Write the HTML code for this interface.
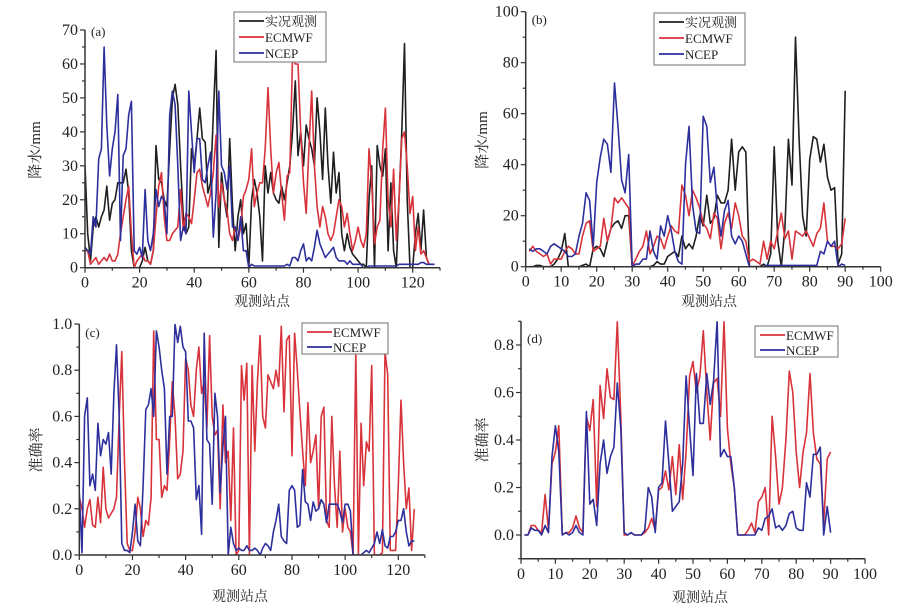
<!DOCTYPE html>
<html><head><meta charset="utf-8"><style>
body{margin:0;background:#fff;width:924px;height:615px;overflow:hidden}
svg{display:block;font-family:"Liberation Serif","Noto Serif CJK SC",serif}
</style></head><body>
<svg id="c" width="924" height="615" viewBox="0 0 924 615" xmlns="http://www.w3.org/2000/svg"></svg>
<script>
const aObs=[30,10,2,12,15,12,15,17,24,14,19,20,25,25,25,29,22,5,0,0,0,2,6,2,1,5,36,26,25,20,18,35,50,54,48,30,15,10,12,35,30,38,47,38,37,22,25,45,64,6,28,20,15,38,18,5,15,20,10,13,0,20,26,22,15,2,30,22,28,22,20,19,24,20,25,30,40,55,33,40,30,42,38,35,30,50,40,26,47,30,19,34,22,28,10,5,10,6,4,3,2,1,1,0,20,30,0,36,30,27,35,5,25,5,0,20,40,66,20,0,0,10,16,5,17,3,1];
const aEC=[5,5,1,2,3,1,2,3,2,4,2,2,4,10,15,20,24,10,0,2,3,4,2,2,1,5,15,24,28,15,8,8,10,11,12,23,11,16,15,13,20,28,29,24,21,18,22,28,39,18,25,20,17,10,8,12,8,12,21,23,26,35,18,22,25,25,35,53,35,22,28,31,22,14,27,28,62,60,60,40,25,16,35,52,30,18,12,18,15,10,8,10,15,20,18,12,16,10,5,8,12,8,6,10,35,25,7,12,14,35,47,20,12,29,8,20,38,40,30,16,21,5,12,4,5,3,1];
const aNC=[6,5,4,15,12,32,35,65,42,27,35,40,51,8,33,35,45,49,5,4,6,3,23,8,5,10,23,18,21,20,10,45,52,48,30,8,12,10,52,40,28,38,38,26,25,30,34,9,22,52,30,28,23,30,12,12,8,15,5,5,0,1,0.5,0.5,0.5,0.5,0.5,0.5,0.5,0.5,0.5,0.5,0.5,0.5,1,0.5,3,3,2,5,7,2,3,2,6,11,7,5,3,4,5,6,3,2,2,2,1,2,1,1,1,1,0,0,0.5,0.5,0.5,0.5,0.5,0.5,0.5,0.5,0.5,0.5,0.5,1,1,1,1,1,1,1,1,1.5,1.5,1,1,1,1];
const bObs=[0,0,0.5,0.5,0,0,0,1,3,6,13,0,0,0,0,0.5,1,0,7,8,7,4,10,15,17,18,15,20,20,0,0,0,0,0,0,0.5,2,1,1,4,5,6,4,12,7,9,7,12,20,16,28,17,19,28,25,25,30,50,30,45,47,45,0,0,0,0,1,0,5,47,10,0,15,50,32,90,50,20,12,42,51,50,41,48,35,30,31,1,5,69];
const bEC=[6,8,6,5,4,5,1,3,3,3,6,8,7,5,5,12,17,18,6,7,8,19,10,15,27,25,27,25,23,0,3,6,8,14,5,8,12,11,7,12,16,14,13,32,28,20,30,27,23,17,15,11,21,19,7,17,21,15,25,20,12,10,2,3,2,1,10,3,10,7,14,21,11,14,3,14,13,12,14,11,8,13,15,25,10,8,8,7,9,19];
const bNC=[7,6,7,7,6,5,8,9,8,7,6,4,4,5,12,17,29,26,8,33,43,50,48,37,72,55,34,29,44,0,1,1,3,3,14,6,3,16,12,20,14,6,2,1,40,55,24,14,13,59,55,33,39,22,12,22,26,12,9,12,10,5,0,0,0,0,0,0.5,0.5,0.5,0.5,0.5,0.5,0.5,0.5,0.5,0.5,0.5,0.5,0.5,0.5,0.5,6,5,10,8,10,0,1,0.5];
const cEC=[0.25,0.2,0.12,0.2,0.24,0.13,0.12,0.25,0.14,0.38,0.2,0.16,0.18,0.2,0.25,0.6,0.88,0.4,0.05,0.02,0.02,0.1,0.25,0.2,0.08,0.15,0.13,0.25,0.97,0.5,0.5,0.25,0.3,0.28,0.5,0.75,0.6,0.33,0.35,0.45,0.85,0.8,0.65,0.6,0.8,0.9,0.7,0.75,0.55,0.95,0.6,0.52,0.54,0.2,0.65,0.4,0.45,0.15,0.55,0,0.02,0.82,0.67,0.83,0,0.82,0.45,0.75,0.95,0.6,0.55,0.78,0.75,0.72,0.8,0.73,0.99,0.62,0.93,0.95,0.43,0.96,0.8,0.62,0.45,0.3,0.66,0.4,0.45,0.52,0.2,0.6,0.64,0.15,0.12,0.6,0.3,0.12,0.45,0.1,0.2,0.12,0.1,0,0.88,0,0.57,0.3,0.49,0.45,0.82,0,0,0,0.01,0.88,0.78,0.02,0.02,0.02,0.3,0.67,0.4,0.2,0.29,0.02,0.2];
const cNC=[0.27,0.01,0.6,0.68,0.3,0.35,0.28,0.57,0.43,0.5,0.48,0.53,0.35,0.7,0.91,0.6,0.05,0.02,0.02,0.01,0.1,0.22,0.06,0.04,0.3,0.63,0.65,0.72,0.6,0.97,0.9,0.8,0.72,0.35,0.6,0.6,1,0.92,0.99,0.9,0.88,0.58,0.58,0.55,0.24,0.3,0.09,0.96,0.5,0.48,0.22,0.7,0.6,0.27,0.47,0.6,0,0.12,0.05,0.02,0.03,0.02,0.02,0.04,0.02,0.02,0.03,0.02,0,0.03,0.05,0.04,0.02,0.1,0.15,0.22,0.08,0.06,0.05,0.28,0.3,0.28,0.12,0.13,0.37,0.23,0.22,0.15,0.23,0.19,0.2,0.24,0.22,0.14,0.22,0.22,0.22,0.22,0.19,0.14,0.22,0.22,0.19,0,0,0,0,0.01,0.02,0.01,0.03,0.05,0.1,0.05,0.11,0.04,0.03,0.08,0.08,0.1,0.15,0.15,0.2,0.1,0.04,0.06,0.06];
const dEC=[0,0,0.04,0.04,0.02,0.01,0.17,0.02,0.3,0.35,0.46,0,0.01,0.01,0.03,0.08,0.03,0.01,0.5,0.44,0.57,0.12,0.63,0.49,0.7,0.58,0.57,0.9,0.5,0,0,0.01,0,0,0,0.01,0.03,0.07,0.02,0.19,0.2,0.27,0.19,0.33,0.17,0.38,0.15,0.35,0.67,0.73,0.6,0.67,0.86,0.6,0.4,0.64,0.66,0.5,0.9,0.45,0.3,0.2,0,0,0,0.02,0.05,0.01,0.14,0.16,0.2,0,0.5,0.33,0.13,0.2,0.4,0.69,0.6,0.35,0.2,0.35,0.43,0.68,0.43,0.32,0.3,0.05,0.32,0.35];
const dNC=[0,0,0.03,0.02,0.02,0,0.04,0.01,0.33,0.46,0.35,0,0.01,0,0.01,0.04,0.01,0,0.52,0.13,0.15,0.04,0.3,0.4,0.26,0.33,0.37,0.64,0.45,0.01,0,0.01,0,0,0,0.02,0.2,0.16,0.01,0.2,0.22,0.48,0.3,0.1,0.12,0.14,0.3,0.67,0.45,0.25,0.68,0.47,0.47,0.68,0.55,0.65,0.9,0.33,0.36,0.33,0.33,0.2,0,0,0,0,0,0,0.03,0.02,0.07,0.08,0.11,0.03,0.04,0.02,0.04,0.09,0.1,0.03,0.02,0.02,0.22,0.16,0.34,0.34,0.37,0,0.12,0.01];
const xTicksA=[0,20,40,60,80,100,120];
const yTicksA=[0,10,20,30,40,50,60,70];
const xTicksB=[0,10,20,30,40,50,60,70,80,90,100];
const yTicksB=[0,20,40,60,80,100];
const yTicksC=["0.0","0.2","0.4","0.6","0.8","1.0"];
const yTicksD=["0.0","0.2","0.4","0.6","0.8"];

const NS="http://www.w3.org/2000/svg";
const svg=document.getElementById('c');
function mk(tag,attrs,parent){const e=document.createElementNS(NS,tag);for(const k in attrs)e.setAttribute(k,attrs[k]);(parent||svg).appendChild(e);return e;}
const COL={obs:'#1f1f1f',ec:'#d8333b',nc:'#2d2f9c'};
let clipId=0;
function panel(p){
  const g=mk('g',{});
  
  
  const sx=v=>p.x0+(v-p.xmin)*(p.x1-p.x0)/(p.xmax-p.xmin);
  const sy=v=>p.y0-(v-p.ymin)*(p.y0-p.y1)/(p.ymax-p.ymin);
  const axEndX=sx(p.xend), axTop=sy(p.ymax), axBot=sy(p.ymin);
  clipId++;
  const cp=mk('clipPath',{id:'cp'+clipId},g);
  mk('rect',{x:sx(p.xmin),y:axTop,width:axEndX-sx(p.xmin),height:axBot-axTop},cp);
  p.series.forEach(s=>{
    let d='';
    s.data.forEach((v,i)=>{d+=(i?'L':'M')+sx(i+p.start).toFixed(1)+','+sy(v).toFixed(1);});
    const l=mk('path',{d:d,fill:'none',stroke:COL[s.c],'stroke-width':1.6,'stroke-linejoin':'round','clip-path':'url(#cp'+clipId+')'},g);
    
    
  });
  const xa=mk('line',{x1:sx(p.xmin),y1:axBot,x2:axEndX,y2:axBot,stroke:'#333','stroke-width':1.5},g);
  
  
  const ya=mk('line',{x1:sx(p.xmin),y1:axBot,x2:sx(p.xmin),y2:axTop,stroke:'#333','stroke-width':1.5},g);
  
  
  for(let v=p.xmin;v<=p.xend+1e-9;v+=p.xminor){
    const major=Math.abs(Math.round(v/p.xmajor)*p.xmajor-v)<1e-6;
    mk('line',{x1:sx(v),y1:axBot,x2:sx(v),y2:axBot+(major?5:3),stroke:'#333','stroke-width':1.2},g);
  }
  for(let v=p.ymin;v<=p.ymax+1e-9;v+=p.yminor){
    const major=Math.abs(Math.round(v/p.ymajor)*p.ymajor-v)<1e-6;
    mk('line',{x1:sx(p.xmin),y1:sy(v),x2:sx(p.xmin)-(major?5:3),y2:sy(v),stroke:'#333','stroke-width':1.2},g);
  }
  p.xticks.forEach(t=>{
    const e=mk('text',{x:sx(+t),y:axBot+20,'text-anchor':'middle','font-size':16,fill:'#222'},g);
    e.textContent=t;
    
    
  });
  p.yticks.forEach(t=>{
    const e=mk('text',{x:sx(p.xmin)-7,y:sy(+t)+5,'text-anchor':'end','font-size':16,fill:'#222'},g);
    e.textContent=t;
    
    
  });
  const xt=mk('text',{x:p.xtx,y:p.xty,'text-anchor':'middle','font-size':14,fill:'#222'},g);
  xt.textContent='观测站点';
  
  
  const yt=mk('text',{x:0,y:0,'text-anchor':'middle','font-size':15,fill:'#222',transform:`translate(${p.ytx},${p.yty}) rotate(-90)`},g);
  yt.textContent=p.ytitle;
  
  
  const pl=mk('text',{x:sx(p.xmin)+6,y:p.ply,'font-size':13,fill:'#222'},g);
  pl.textContent=p.label;
  
  
  const L=p.leg;
  const lg=mk('g',{},g);
  
  
  mk('rect',{x:L.x,y:L.y,width:L.w,height:L.h,fill:'#fff',stroke:'#888','stroke-width':1.2},lg);
  p.series.forEach((s,i)=>{
    const yy=L.y+9+i*L.step;
    mk('line',{x1:L.x+5,y1:yy,x2:L.x+30,y2:yy,stroke:COL[s.c],'stroke-width':1.8},lg);
    const t=mk('text',{x:L.x+31,y:yy+5,'font-size':13,fill:'#222'},lg);
    t.textContent=s.label;
    
    
  });
}
panel({name:'panel-a',label:'(a)',x0:85,x1:412.7,xmin:0,xmax:120,xend:130,y0:267.7,y1:30,ymin:0,ymax:70,start:0,
  xmajor:20,xminor:10,ymajor:10,yminor:5,xticks:xTicksA,yticks:yTicksA,xtx:262,xty:306,ytx:40,yty:150,ytitle:'降水/mm',ply:36,
  leg:{x:234,y:12,w:92,h:50,step:16},
  series:[{name:'obs-line',c:'obs',data:aObs,label:'实况观测'},{name:'ecmwf-line',c:'ec',data:aEC,label:'ECMWF'},{name:'ncep-line',c:'nc',data:aNC,label:'NCEP'}]});
panel({name:'panel-b',label:'(b)',x0:525.7,x1:880.7,xmin:0,xmax:100,xend:100,y0:266.7,y1:11.7,ymin:0,ymax:100,start:1,
  xmajor:10,xminor:5,ymajor:20,yminor:10,xticks:xTicksB,yticks:yTicksB,xtx:709,xty:306,ytx:487,yty:140,ytitle:'降水/mm',ply:24,
  leg:{x:654,y:13,w:91,h:52,step:16},
  series:[{name:'obs-line',c:'obs',data:bObs,label:'实况观测'},{name:'ecmwf-line',c:'ec',data:bEC,label:'ECMWF'},{name:'ncep-line',c:'nc',data:bNC,label:'NCEP'}]});
panel({name:'panel-c',label:'(c)',x0:79.3,x1:398.3,xmin:0,xmax:120,xend:130,y0:555,y1:324,ymin:0,ymax:1.0,start:0,
  xmajor:20,xminor:10,ymajor:0.2,yminor:0.1,xticks:xTicksA,yticks:yTicksC,xtx:240,xty:601,ytx:41,yty:450,ytitle:'准确率',ply:337,
  leg:{x:302,y:323,w:86,h:31,step:15},
  series:[{name:'ecmwf-line',c:'ec',data:cEC,label:'ECMWF'},{name:'ncep-line',c:'nc',data:cNC,label:'NCEP'}]});
panel({name:'panel-d',label:'(d)',x0:521,x1:865,xmin:0,xmax:100,xend:100,y0:558.75,y1:321.25,ymin:-0.1,ymax:0.9,start:1,
  xmajor:10,xminor:5,ymajor:0.2,yminor:0.1,xticks:xTicksB,yticks:yTicksD,xtx:700,xty:602,ytx:487,yty:440,ytitle:'准确率',ply:343,
  leg:{x:755,y:326,w:83,h:31,step:15},
  series:[{name:'ecmwf-line',c:'ec',data:dEC,label:'ECMWF'},{name:'ncep-line',c:'nc',data:dNC,label:'NCEP'}]});
</script>
</body></html>
